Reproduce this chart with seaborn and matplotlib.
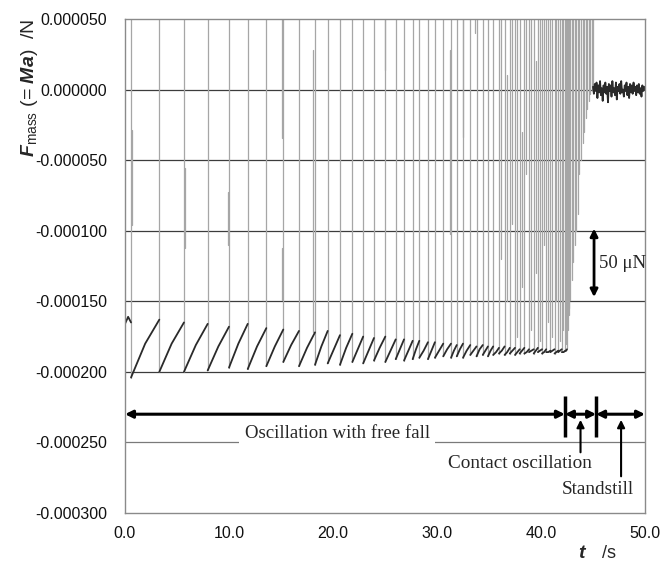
import numpy as np
import pandas as pd
import matplotlib
matplotlib.use("Agg")
import matplotlib.pyplot as plt
import seaborn as sns

# ---------------- data ----------------
# bounce (impact) times during free-fall oscillation, s
bounce_t = [0.58, 3.30, 5.67, 7.95, 10.0, 11.8, 13.59, 15.22, 16.73, 18.27,
            19.49, 20.67, 21.86, 22.9, 23.94, 25.03, 26.03, 26.83, 27.66, 28.3,
            29.13, 29.8, 30.6, 31.35, 31.9, 32.5, 33.2, 33.8, 34.4, 34.9,
            35.4, 35.96, 36.5, 37.0, 37.5, 37.95, 38.4, 38.85, 39.3, 39.7,
            40.1, 40.5, 40.9, 41.3, 41.65, 42.0, 42.35]
# force right after each bounce (segment start), N
seg_lo = [-0.000204, -0.000200, -0.000200, -0.000199, -0.000197, -0.000198,
          -0.000196, -0.000193, -0.000196, -0.000195, -0.000194, -0.000195,
          -0.000193, -0.000194, -0.000192, -0.000193, -0.000191, -0.000192,
          -0.000191, -0.000190, -0.000191, -0.000190, -0.000189, -0.000190,
          -0.000189, -0.000190, -0.000188, -0.000189, -0.000188, -0.000189,
          -0.000188, -0.000187, -0.000188, -0.000187, -0.000188, -0.000187,
          -0.000187, -0.000186, -0.000187, -0.000186, -0.000187, -0.000186,
          -0.000186, -0.000187, -0.000186, -0.000186, -0.000185]
# force halfway through each segment, N
seg_mid = [-0.000180, -0.000180, -0.000181, -0.000182, -0.000180, -0.000182,
           -0.000182, -0.000181, -0.000183, -0.000182, -0.000184, -0.000183,
           -0.000184, -0.000185, -0.000183, -0.000185, -0.000184, -0.000185,
           -0.000184, -0.000185, -0.000185, -0.000185, -0.000184, -0.000185,
           -0.000184, -0.000185, -0.000185, -0.000184, -0.000185, -0.000185,
           -0.000186, -0.000185, -0.000186, -0.000185, -0.000186, -0.000185,
           -0.000186, -0.000185, -0.000185, -0.000185, -0.000186, -0.000186,
           -0.000185, -0.000186, -0.000185, -0.000186, -0.000185]
# force right before the next bounce (segment end), N
seg_hi = [-0.000163, -0.000165, -0.000166, -0.000168, -0.000166, -0.000169,
          -0.000170, -0.000171, -0.000172, -0.000171, -0.000174, -0.000173,
          -0.000175, -0.000176, -0.000175, -0.000177, -0.000177, -0.000178,
          -0.000178, -0.000179, -0.000179, -0.000180, -0.000180, -0.000181,
          -0.000180, -0.000181, -0.000182, -0.000181, -0.000182, -0.000182,
          -0.000183, -0.000182, -0.000183, -0.000183, -0.000184, -0.000183,
          -0.000184, -0.000184, -0.000183, -0.000184, -0.000184, -0.000185,
          -0.000184, -0.000185, -0.000184, -0.000185, -0.000184]
# level before the first bounce
pre_t = [0.0, 0.3, 0.58]
pre_v = [-0.000166, -0.000161, -0.000165]

# contact oscillation: spike times and the lower envelope, N
contact_t = [42.5, 42.65, 42.8, 42.95, 43.1, 43.25, 43.4, 43.55, 43.7, 43.85,
             44.0, 44.15, 44.3, 44.45, 44.6, 44.75, 44.9, 45.0]
contact_lo = [-0.000183, -0.000160, -0.000149, -0.000135, -0.000122, -0.000110,
              -0.000100, -0.000088, -0.000060, -0.000050, -0.000038, -0.000030,
              -0.000020, -0.000014, -0.000008, -0.000003, 0.000000, 0.000002]

# partly visible spike strokes (time, lower, upper), N
partial_t = [0.70, 5.80, 9.87, 15.10, 15.12, 18.05, 25.0, 31.25, 32.5, 33.65,
             36.2, 36.75, 37.25, 37.7, 38.15, 38.6, 39.05, 39.5, 39.9, 40.3,
             40.7, 41.1, 41.45, 41.8, 42.15, 42.42, 42.58, 42.72]
partial_lo = [-0.0000959, -0.000112, -0.000110, -0.0000343, -0.000149, -0.000172,
              0.0000139, -0.000102, -0.0000333, 0.000040,
              -0.000120, -0.000150, -0.000095, -0.000175, -0.000140, -0.000060,
              -0.000170, -0.000130, -0.000178, -0.000110, -0.000165, -0.000175,
              -0.000150, -0.000178, -0.000170, -0.000180, -0.000170, -0.000155]
partial_hi = [-0.0000286, -0.0000555, -0.0000725, 0.00006, -0.000112, 0.000028,
              0.00006, 0.000028, 0.00006, 0.00006,
              0.00006, 0.000010, 0.00006, 0.00006, -0.000030, 0.00006,
              0.00006, 0.000020, 0.00006, 0.00006, 0.00006, 0.00006,
              0.00006, 0.00006, 0.00006, 0.00006, 0.00006, 0.00006]

# standstill noise around zero, N
still_v = [2e-6, -3e-6, 4e-6, -1e-6, 5e-6, -6e-6, 3e-6, -2e-6, 6e-6, -4e-6,
           1e-6, -8e-6, 3e-6, -2e-6, 5e-6, -3e-6, 2e-6, -9e-6, 4e-6, -1e-6,
           3e-6, -5e-6, 6e-6, -2e-6, 1e-6, -4e-6, 5e-6, -7e-6, 2e-6, -1e-6,
           4e-6, -3e-6, 6e-6, -2e-6, 0.0, -5e-6, 3e-6, -1e-6, 5e-6, -4e-6,
           2e-6, -6e-6, 4e-6, -2e-6, 3e-6, -3e-6, 5e-6, -1e-6, 2e-6, -4e-6,
           3e-6, -2e-6, 4e-6, -3e-6, 1e-6, -5e-6, 3e-6, -1e-6, 2e-6, 0.0]
still_range = (45.0, 50.0)

spike_top = 0.00008  # impact peaks run off the top of the plot

y_ticks = [0.00005, 0.0, -0.00005, -0.0001, -0.00015, -0.0002, -0.00025, -0.0003]
x_ticks = [0, 10, 20, 30, 40, 50]

# phases: boundaries in s
phase_edges = [0.0, 42.3, 45.3, 50.0]

# ---------------- build long-form table ----------------
rows = []
uid = 0
def add(kind, ts, vs):
    global uid
    for t, v in zip(ts, vs):
        rows.append({"t": t, "F": v, "kind": kind, "unit": uid})
    uid += 1

add("trace", pre_t, pre_v)
for i, t in enumerate(bounce_t):
    add("spike", [t, t], [seg_lo[i], spike_top])
    t_next = bounce_t[i + 1] if i + 1 < len(bounce_t) else contact_t[0]
    add("trace", [t, (t + t_next) / 2, t_next], [seg_lo[i], seg_mid[i], seg_hi[i]])
for t, lo in zip(contact_t, contact_lo):
    add("spike", [t, t], [lo, spike_top])
for t, lo, hi in zip(partial_t, partial_lo, partial_hi):
    add("spike", [t, t], [lo, hi])
add("trace", list(np.linspace(still_range[0], still_range[1], len(still_v))), still_v)

df = pd.DataFrame(rows)

# ---------------- plot ----------------
sns.set_theme(style="white")
plt.rcParams["font.family"] = ["Liberation Sans", "DejaVu Sans"]
plt.rcParams["mathtext.fontset"] = "custom"
plt.rcParams["mathtext.bf"] = "Liberation Sans:bold:italic"
plt.rcParams["mathtext.rm"] = "Liberation Sans"
plt.rcParams["mathtext.it"] = "Liberation Sans:italic"

fig = plt.figure(figsize=(6.71, 5.63), dpi=100)
ax = fig.add_axes([125 / 671, 1 - 513 / 563, 520 / 671, 494 / 563])

sns.lineplot(data=df[df.kind == "spike"], x="t", y="F", units="unit",
             estimator=None, sort=False, color="#a6a6a6", lw=0.9, ax=ax,
             legend=False)
sns.lineplot(data=df[df.kind == "trace"], x="t", y="F", units="unit",
             estimator=None, sort=False, color="#2a2a2a", lw=1.3, ax=ax,
             legend=False)

ax.set_xlim(0, 50)
ax.set_ylim(-0.0003, 0.00005)
ax.set_yticks(y_ticks)
ax.set_yticklabels([f"{v:.6f}" for v in y_ticks])
ax.set_xticks(x_ticks)
ax.set_xticklabels([f"{v:.1f}" for v in x_ticks])
ax.tick_params(axis="y", direction="out", length=4, color="#808080",
               labelsize=11.5, pad=9, labelcolor="#111111")
ax.tick_params(axis="x", direction="in", length=4, color="#808080",
               labelsize=11.5, pad=9, labelcolor="#111111")
for s in ax.spines.values():
    s.set_color("#8a8a8a")
    s.set_linewidth(1.0)
for v in y_ticks[1:-1]:
    if v == -0.00025:
        ax.axhline(v, color="#7a7a7a", lw=0.9, zorder=0)
    else:
        ax.axhline(v, color="#3c3c3c", lw=0.9, zorder=0)
ax.set_xlabel("")
ax.set_ylabel("")

fig.text(30 / 671, 1 - 19 / 563,
         r"$\mathbf{F}_{\mathrm{mass}}$ (= $\mathbf{Ma}$)  /N",
         rotation=90, ha="center", va="top", fontsize=14)
fig.text(583 / 671, 1 - 553 / 563, r"$\mathbf{t}$", ha="center", va="center",
         fontsize=14)
fig.text(609 / 671, 1 - 553 / 563, "/s", ha="center", va="center", fontsize=13)

serif = ["Liberation Serif", "DejaVu Serif"]
arr_y = -0.00023
dbl = dict(arrowstyle="<|-|>", color="black", lw=2.2, mutation_scale=11,
           shrinkA=0, shrinkB=0)
for a, b in zip(phase_edges[:-1], phase_edges[1:]):
    ax.annotate("", xy=(a, arr_y), xytext=(b, arr_y), arrowprops=dbl,
                annotation_clip=False)
for e in phase_edges[1:-1]:
    ax.plot([e, e], [-0.000246, -0.000217], color="black", lw=2.5,
            solid_capstyle="butt", zorder=5)

ax.text(20.4, -0.000244, "Oscillation with free fall", family=serif,
        fontsize=13.6, ha="center", va="center",
        bbox=dict(facecolor="white", edgecolor="none", pad=4))
ax.text(38.0, -0.000265, "Contact oscillation", family=serif, fontsize=13.8,
        ha="center", va="center")
ax.text(45.5, -0.000283, "Standstill", family=serif, fontsize=13.8,
        ha="center", va="center")
one = dict(arrowstyle="-|>", color="black", lw=1.5, mutation_scale=11,
           shrinkA=0, shrinkB=0)
ax.annotate("", xy=(43.8, -0.000234), xytext=(43.8, -0.000257), arrowprops=one)
ax.annotate("", xy=(47.7, -0.000234), xytext=(47.7, -0.000274), arrowprops=one)

ax.annotate("", xy=(45.1, -0.0000985), xytext=(45.1, -0.000147),
            arrowprops=dict(arrowstyle="<|-|>", color="black", lw=2.0,
                            mutation_scale=11, shrinkA=0, shrinkB=0))
ax.text(45.6, -0.000123, "50 \u03bcN", family=serif, fontsize=13.5,
        ha="left", va="center")

fig.savefig("out.png", dpi=100)
